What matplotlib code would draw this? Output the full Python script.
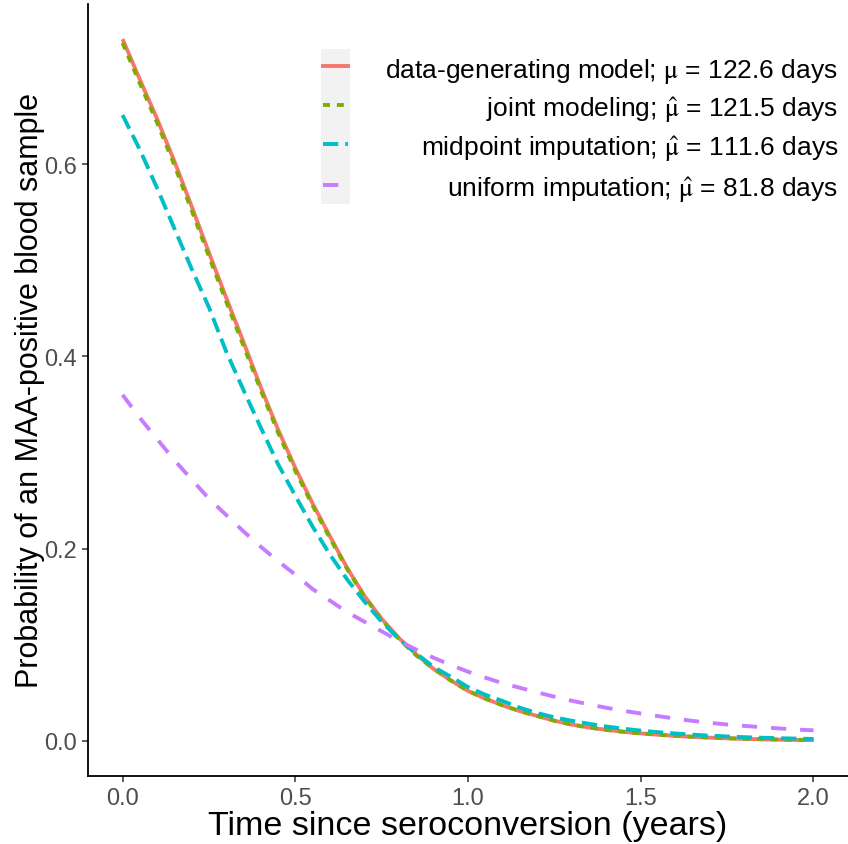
import numpy as np
import matplotlib
matplotlib.use("Agg")
import matplotlib.pyplot as plt
from matplotlib.lines import Line2D
from matplotlib.patches import Rectangle

plt.rcParams['font.family'] = ['Liberation Sans', 'DejaVu Sans']
plt.rcParams['mathtext.fontset'] = 'stix'
plt.rcParams['lines.scale_dashes'] = False

# time since seroconversion (years)
t = np.round(np.arange(0, 2.0001, 0.05), 2)

# probability curves
p_true = [0.730, 0.688, 0.647, 0.603, 0.556, 0.508, 0.461, 0.415, 0.368, 0.324,
          0.284, 0.247, 0.213, 0.180, 0.151, 0.127, 0.107, 0.090, 0.075, 0.063,
          0.052, 0.044, 0.037, 0.031, 0.026, 0.021, 0.017, 0.014, 0.0115, 0.0095,
          0.0078, 0.0064, 0.0052, 0.0042, 0.0034, 0.0027, 0.0021, 0.0017, 0.0013, 0.0010,
          0.0008]
p_joint = [0.726, 0.684, 0.643, 0.599, 0.552, 0.504, 0.457, 0.411, 0.365, 0.321,
           0.281, 0.245, 0.211, 0.179, 0.150, 0.126, 0.106, 0.089, 0.075, 0.063,
           0.052, 0.044, 0.037, 0.031, 0.026, 0.021, 0.017, 0.014, 0.0115, 0.0095,
           0.0079, 0.0065, 0.0053, 0.0043, 0.0035, 0.0028, 0.0022, 0.0018, 0.0014, 0.0011,
           0.0009]
p_mid = [0.651, 0.615, 0.575, 0.533, 0.491, 0.451, 0.405, 0.365, 0.326, 0.288,
         0.255, 0.223, 0.194, 0.168, 0.145, 0.124, 0.106, 0.091, 0.077, 0.0668,
         0.056, 0.048, 0.0415, 0.0345, 0.029, 0.0245, 0.021, 0.0178, 0.015, 0.0127,
         0.0107, 0.0091, 0.0077, 0.0065, 0.0055, 0.0046, 0.0039, 0.0033, 0.0028, 0.0024,
         0.0020]
p_unif = [0.360, 0.336, 0.314, 0.292, 0.272, 0.252, 0.235, 0.218, 0.202, 0.187,
          0.173, 0.158, 0.146, 0.134, 0.124, 0.114, 0.104, 0.095, 0.0865, 0.079,
          0.072, 0.0658, 0.060, 0.0553, 0.0505, 0.046, 0.0418, 0.038, 0.0345, 0.0313,
          0.0285, 0.0258, 0.0232, 0.0208, 0.0188, 0.0171, 0.0156, 0.0143, 0.013, 0.0118,
          0.011]

labels = [r"data-generating model; $\mathrm{\mu}$ = 122.6 days",
          r"joint modeling; $\hat{\mathrm{\mu}}$ = 121.5 days",
          r"midpoint imputation; $\hat{\mathrm{\mu}}$ = 111.6 days",
          r"uniform imputation; $\hat{\mathrm{\mu}}$ = 81.8 days"]
colors = ["#F8766D", "#7CAE00", "#00BFC4", "#C77CFF"]
dashes = [None, (5, 5), (11, 5), (11, 10)]
series = [p_true, p_joint, p_mid, p_unif]

fig = plt.figure(figsize=(8.48, 8.45), dpi=100)
ax = fig.add_axes([88/848, 68/845, 760/848, 772/845])

lw = 2.8
for y, c, d in zip(series, colors, dashes):
    if d is None:
        ax.plot(t, y, color=c, lw=lw, solid_capstyle='butt')
    else:
        ax.plot(t, y, color=c, lw=lw, dashes=d, dash_capstyle='butt')

ax.set_xlim(-0.1, 2.1)
ax.set_ylim(-0.0365, 0.7665)
ax.set_xticks([0.0, 0.5, 1.0, 1.5, 2.0])
ax.set_yticks([0.0, 0.2, 0.4, 0.6])
ax.set_xticklabels(["0.0", "0.5", "1.0", "1.5", "2.0"])
ax.set_yticklabels(["0.0", "0.2", "0.4", "0.6"])
ax.tick_params(length=4, width=1.1, color="#333333", labelcolor="#4D4D4D",
               labelsize=17, pad=4)
for s in ['top', 'right']:
    ax.spines[s].set_visible(False)
for s in ['left', 'bottom']:
    ax.spines[s].set_linewidth(1.3)

ax.set_xlabel("Time since seroconversion (years)", fontsize=24.5, va='top')
ax.xaxis.set_label_coords(0.5, -0.0445)
ax.set_ylabel("Probability of an MAA-positive blood sample", fontsize=22, va='center')
ax.yaxis.set_label_coords(-(88 - 30) / 760, 0.5)

# legend drawn ggplot-style: keys on the left, labels right-aligned
ax.add_patch(Rectangle((0.3066, 0.741), 0.038, 0.2007, transform=ax.transAxes,
                       facecolor="#F2F2F2", edgecolor="none", zorder=3))
key_y = [0.9197, 0.8692, 0.8187, 0.7655]
for ky, lab, c, d in zip(key_y, labels, colors, dashes):
    ln = Line2D([0.309, 0.342], [ky, ky], transform=ax.transAxes, color=c, lw=lw, zorder=4)
    if d is not None:
        ln.set_dashes(d)
        ln.set_dash_capstyle('butt')
    ax.add_line(ln)
    ax.text(0.987, ky - 0.014, lab, transform=ax.transAxes, ha='right', va='baseline',
            fontsize=19, color="black", zorder=4)

fig.savefig("out.png", dpi=100)
